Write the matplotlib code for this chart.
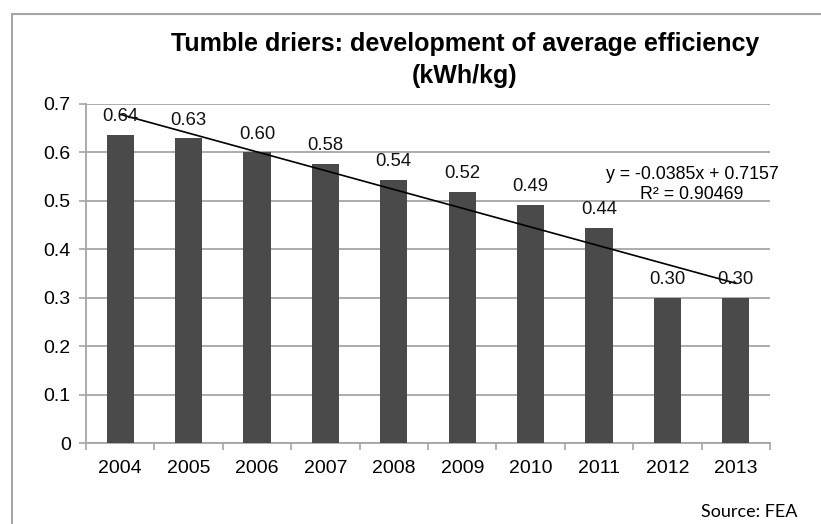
import numpy as np
import matplotlib.pyplot as plt
from matplotlib.patches import Rectangle

plt.rcParams['font.family'] = ['Liberation Sans', 'DejaVu Sans']

# -----------------------------------------------------------------------------
# Data
# -----------------------------------------------------------------------------
years = ['2004', '2005', '2006', '2007', '2008',
         '2009', '2010', '2011', '2012', '2013']
efficiency = [0.637, 0.629, 0.600, 0.577, 0.544,
              0.519, 0.492, 0.444, 0.300, 0.300]
value_labels = ['0.64', '0.63', '0.60', '0.58', '0.54',
                '0.52', '0.49', '0.44', '0.30', '0.30']
yticks = [0, 0.1, 0.2, 0.3, 0.4, 0.5, 0.6, 0.7]
ytick_labels = ['0', '0.1', '0.2', '0.3', '0.4', '0.5', '0.6', '0.7']
equation = 'y = -0.0385x + 0.7157'
r_squared = 'R² = 0.90469'

W, H = 821, 524
fig = plt.figure(figsize=(W / 100, H / 100), dpi=100)

# outer chart border (runs off the right and bottom of the picture)
fig.patches.append(Rectangle((12 / W, -0.1), 1.2, 1 - 14 / H + 0.1,
                             transform=fig.transFigure, fill=False,
                             edgecolor='#a6a6a6', linewidth=1.5))

ax = fig.add_axes([86 / W, 1 - 443 / H, (770 - 86) / W, (443 - 104) / H])

x = np.arange(len(years))
ax.bar(x, efficiency, width=0.4, color='#4a4a4a', zorder=3)

for xi, v, lab in zip(x, efficiency, value_labels):
    ax.annotate(lab, (xi, v), xytext=(0, 7), textcoords='offset points',
                ha='center', va='bottom', fontsize=13.3, color='#111111',
                zorder=5)

# linear trendline (x = 1..10 as in the spreadsheet)
k = x + 1
slope, intercept = np.polyfit(k, efficiency, 1)
ax.plot(x, slope * k + intercept, color='black', linewidth=1.2, zorder=4)

ax.text(8.36, 0.554, equation, ha='center', va='center', fontsize=12.8)
ax.text(8.36, 0.513, r_squared, ha='center', va='center', fontsize=12.8)

# -----------------------------------------------------------------------------
# Axes styling
# -----------------------------------------------------------------------------
ax.set_xlim(-0.5, len(years) - 0.5)
ax.set_ylim(0, 0.7)
ax.set_yticks(yticks)
ax.set_yticklabels(ytick_labels, fontsize=14)
ax.set_xticks(x)
ax.set_xticklabels(years, fontsize=14)
ax.set_xticks(np.arange(-0.5, len(years)), minor=True)
ax.tick_params(axis='x', which='major', length=0, pad=12)
ax.tick_params(axis='x', which='minor', length=5, color='#a6a6a6', width=1.2)
ax.tick_params(axis='y', length=5, color='#a6a6a6', width=1.2, pad=6)
ax.yaxis.grid(True, color='#a6a6a6', linewidth=1.3, zorder=0)
ax.set_axisbelow(True)
for side in ['top', 'right']:
    ax.spines[side].set_visible(False)
for side in ['left', 'bottom']:
    ax.spines[side].set_color('#a6a6a6')
    ax.spines[side].set_linewidth(1.3)

fig.text(465 / W, 1 - 44 / H, 'Tumble driers: development of average efficiency',
         ha='center', va='center', fontsize=18, fontweight='bold')
fig.text(465 / W, 1 - 76 / H, '(kWh/kg)',
         ha='center', va='center', fontsize=18, fontweight='bold')
fig.text(797 / W, 1 - 512 / H, 'Source: FEA', ha='right', va='center',
         fontsize=13, family=['Lato', 'DejaVu Sans'])

fig.savefig('out.png', dpi=100)
